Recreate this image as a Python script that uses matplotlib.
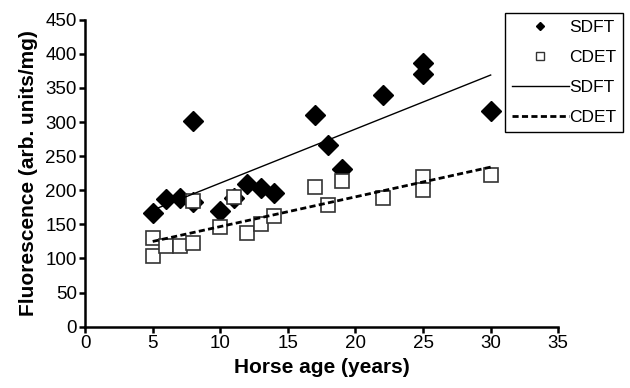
import matplotlib
matplotlib.use('Agg')
import matplotlib.pyplot as plt
from matplotlib.lines import Line2D

plt.rcParams.update({
    'font.family': ['Liberation Sans', 'DejaVu Sans'],
    'font.size': 12,
})

# ─── Data ─────────────────────────────────────────────
sdft_age = [5, 6, 7, 8, 8, 10, 11, 12, 13, 14, 17, 18, 19, 22, 25, 25, 30]
sdft_fluo = [166, 187, 188, 302, 183, 170, 188, 209, 204, 196, 310, 266, 231, 339, 386, 371, 316]

cdet_age = [5, 5, 6, 7, 8, 8, 10, 11, 12, 13, 14, 17, 18, 19, 22, 25, 25, 30]
cdet_fluo = [130, 103, 119, 119, 123, 184, 146, 190, 138, 150, 163, 205, 178, 213, 189, 220, 200, 223]

# linear trend (start/end of fitted lines)
trend_x = [5, 30]
sdft_trend = [171, 369]
cdet_trend = [125, 234]

DASH = (0, (2.2, 1.2))

fig = plt.figure(figsize=(6.3, 3.88), dpi=100)
ax = fig.add_axes([0.1351, 0.158, 0.751, 0.791])

ax.plot(sdft_age, sdft_fluo, linestyle='none', marker='D', markersize=10,
        color='black')
ax.plot(cdet_age, cdet_fluo, linestyle='none', marker='s', markersize=10,
        markerfacecolor='white', markeredgecolor='#333333', markeredgewidth=1.2)
ax.plot(trend_x, sdft_trend, color='black', linewidth=1.0)
ax.plot(trend_x, cdet_trend, color='black', linewidth=2.0, linestyle=DASH)

ax.set_xlim(0, 35)
ax.set_ylim(0, 450)
ax.set_xticks(range(0, 36, 5))
ax.set_yticks(range(0, 451, 50))
ax.spines['top'].set_visible(False)
ax.spines['right'].set_visible(False)
for s in ['left', 'bottom']:
    ax.spines[s].set_linewidth(1.8)
ax.tick_params(width=1.8, length=4, labelsize=13.5, pad=2)
ax.set_xlabel('Horse age (years)', fontweight='bold', fontsize=15, labelpad=4)
ax.set_ylabel('Fluorescence (arb. units/mg)', fontweight='bold', fontsize=15, labelpad=5)

# legend with small markers
handles = [
    Line2D([], [], linestyle='none', marker='D', markersize=4.5, color='black'),
    Line2D([], [], linestyle='none', marker='s', markersize=6,
           markerfacecolor='white', markeredgecolor='#333333', markeredgewidth=1.0),
    Line2D([], [], color='black', linewidth=1.0),
    Line2D([], [], color='black', linewidth=2.0, linestyle=DASH),
]
labels = ['SDFT', 'CDET', 'SDFT', 'CDET']
leg = fig.legend(handles, labels, loc='upper right', bbox_to_anchor=(0.989, 0.9665),
                 frameon=True, fancybox=False, edgecolor='black', framealpha=1,
                 handlelength=3.3, handletextpad=0.0,
                 labelspacing=0.85, fontsize=12.5, borderpad=0.4,
                 borderaxespad=0)
leg.get_frame().set_linewidth(1.0)

fig.savefig('out.png', dpi=100)
